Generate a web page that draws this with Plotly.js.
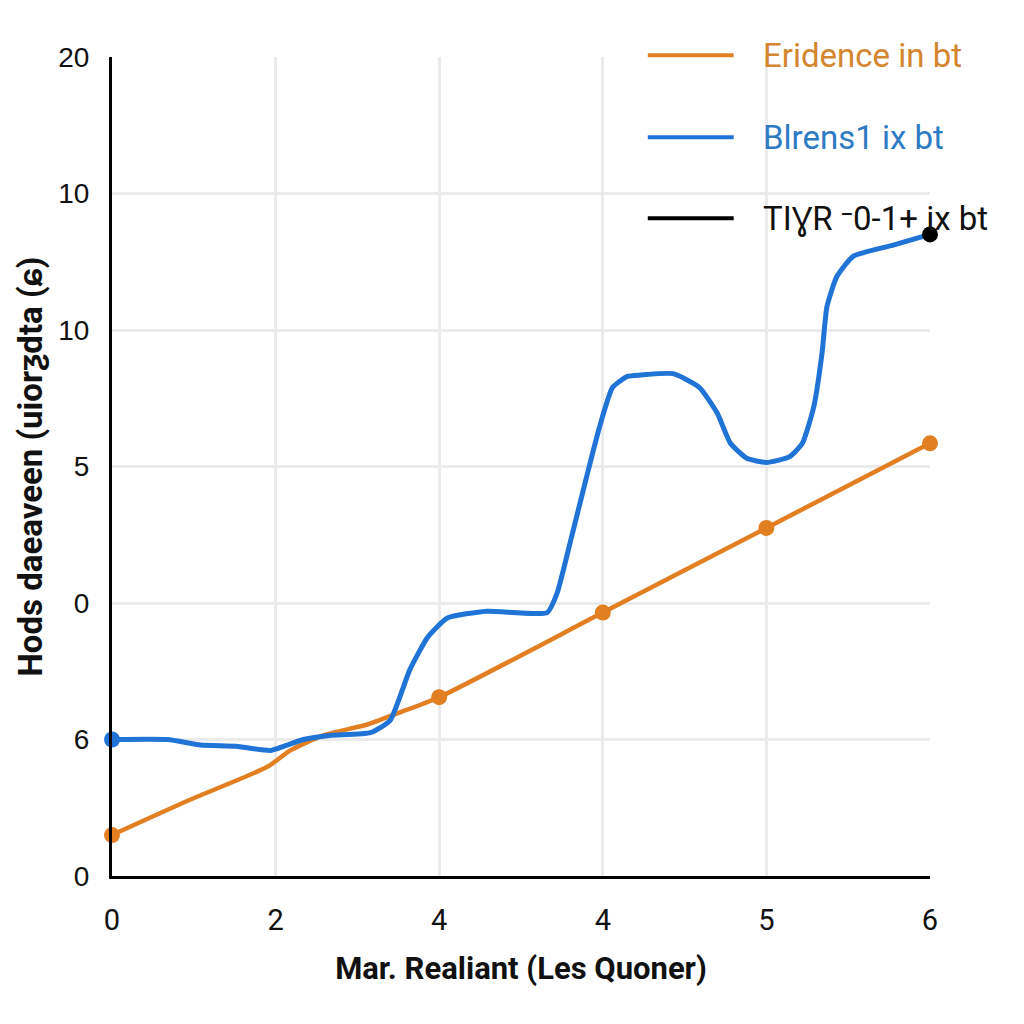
<!DOCTYPE html>
<html>
<head>
<meta charset="utf-8">
<script src="https://cdn.plot.ly/plotly-3.0.1.min.js"></script>
<style>html,body{margin:0;padding:0;background:#fff;}#chart{width:1024px;height:1024px;}</style>
</head>
<body>
<div id="chart"></div>
<script>
// Tick positions and labels (as printed on the chart)
const xTickPos = [0, 1, 2, 3, 4, 5];
const xTickText = ['0', '2', '4', '4', '5', '6'];
const yTickPos = [0, 1, 2, 3, 4, 5, 6];
const yTickText = ['0', '6', '0', '5', '10', '10', '20'];

// Series names
const nameOrange = 'Eridence in bt';
const nameBlue = 'Blrens1 ix bt';
const nameBlack = 'TIƔR ⁻0-1+ ix bt';

// Orange series (line path + marked points)
const orangeX = [0, 0.48, 0.95, 1.09, 1.29, 1.56, 1.74, 2, 3, 4, 5];
const orangeY = [0.30, 0.56, 0.80, 0.92, 1.03, 1.11, 1.19, 1.31, 1.93, 2.55, 3.17];
const orangeMarkX = [0, 2, 3, 4, 5];
const orangeMarkY = [0.30, 1.31, 1.93, 2.55, 3.17];

// Blue series
const blueX = [0, 0.34, 0.54, 0.76, 0.97, 1.17, 1.33, 1.58, 1.70, 1.82, 1.93, 2.05, 2.29, 2.66, 2.72, 2.80, 2.90, 2.98, 3.06, 3.15, 3.23, 3.43, 3.59, 3.70, 3.78, 3.88, 4.00, 4.14, 4.22, 4.29, 4.34, 4.37, 4.43, 4.53, 4.77, 5];
const blueY = [1.00, 1.00, 0.96, 0.95, 0.92, 1.00, 1.03, 1.05, 1.14, 1.51, 1.75, 1.89, 1.94, 1.93, 2.07, 2.44, 2.92, 3.29, 3.58, 3.66, 3.67, 3.68, 3.58, 3.39, 3.17, 3.06, 3.03, 3.07, 3.17, 3.44, 3.83, 4.17, 4.39, 4.54, 4.62, 4.70];
const blueMarkX = [0];
const blueMarkY = [1.00];

// Black series (single marked point)
const blackX = [5];
const blackY = [4.70];

const cOrange = '#e27f22';
const cBlue = '#1f74d6';
const cBlack = '#000000';

const traces = [
  {x: orangeX, y: orangeY, name: nameOrange, mode: 'lines', line: {color: cOrange, width: 4.5, shape: 'spline', smoothing: 0.6}, cliponaxis: false, showlegend: false},
  {x: blueX, y: blueY, name: nameBlue, mode: 'lines', line: {color: cBlue, width: 5, shape: 'spline', smoothing: 0.5}, cliponaxis: false, showlegend: false},
  {x: orangeMarkX, y: orangeMarkY, name: nameOrange, mode: 'markers', marker: {color: cOrange, size: 16}, cliponaxis: false, showlegend: false},
  {x: blueMarkX, y: blueMarkY, name: nameBlue, mode: 'markers', marker: {color: cBlue, size: 16}, cliponaxis: false, showlegend: false},
  {x: blackX, y: blackY, name: nameBlack, mode: 'markers', marker: {color: cBlack, size: 16}, cliponaxis: false, showlegend: false}
];

// Manual legend (long line samples like the reference)
const legendItems = [
  {text: nameOrange, line: cOrange, font: '#d4862f', y: 1.002},
  {text: nameBlue, line: cBlue, font: '#2f7bc3', y: 0.902},
  {text: nameBlack, line: cBlack, font: '#111111', y: 0.803}
];
const shapes = legendItems.map(it => ({type: 'line', xref: 'paper', yref: 'paper', x0: 0.655, x1: 0.760, y0: it.y, y1: it.y, line: {color: it.line, width: 4}}));
const annotations = legendItems.map(it => ({xref: 'paper', yref: 'paper', x: 0.794, y: it.y, xanchor: 'left', yanchor: 'middle', showarrow: false, text: it.text, font: {family: 'Roboto, sans-serif', size: 33, color: it.font}}));

const layout = {
  width: 1024, height: 1024,
  paper_bgcolor: '#ffffff', plot_bgcolor: '#ffffff',
  margin: {l: 112, r: 94, t: 57, b: 148},
  showlegend: false,
  xaxis: {
    range: [0, 5], tickmode: 'array', tickvals: xTickPos, ticktext: xTickText,
    showgrid: true, gridcolor: '#ebebeb', gridwidth: 3,
    showline: true, linecolor: '#000', linewidth: 3, zeroline: false,
    ticks: '', ticklabelstandoff: 16,
    tickfont: {family: 'Roboto, sans-serif', size: 29, color: '#111'},
    title: {text: 'Mar. Realiant (Les Quoner)', standoff: 22, font: {family: 'Roboto, sans-serif', size: 31, color: '#111', weight: 'bold'}}
  },
  yaxis: {
    range: [0, 6], tickmode: 'array', tickvals: yTickPos, ticktext: yTickText,
    showgrid: true, gridcolor: '#ebebeb', gridwidth: 3,
    showline: true, linecolor: '#000', linewidth: 3, zeroline: false,
    ticks: '', ticklabelstandoff: 14,
    tickfont: {family: '"Liberation Sans", Arial, sans-serif', size: 28, color: '#111'},
    title: {text: 'Hods daeaveen (uiorƺdta (ɕ)', standoff: 6, font: {family: 'Roboto, sans-serif', size: 33, color: '#111', weight: 'bold'}}
  },
  shapes: shapes,
  annotations: annotations
};

Plotly.newPlot('chart', traces, layout, {displayModeBar: false, staticPlot: true});
</script>
</body>
</html>
